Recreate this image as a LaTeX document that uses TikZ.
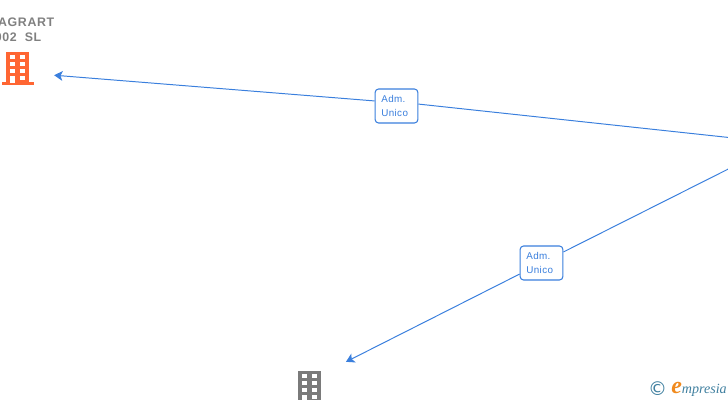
\documentclass[tikz,border=0pt]{standalone}
\usepackage{fontspec}
\setmainfont{Liberation Sans}
\newfontfamily\logofont{Liberation Serif}
\newfontfamily\markfont{DejaVu Sans}
\newfontfamily\rolefont[LetterSpace=4]{Liberation Sans}
\newfontfamily\firmfont[LetterSpace=5]{Liberation Sans}
\usepackage{xcolor}
\usetikzlibrary{arrows.meta,calc}
\definecolor{linkblue}{HTML}{3A7FDD}
\definecolor{officeorange}{HTML}{FF6633}
\definecolor{officegrey}{HTML}{7A7A7A}
\definecolor{logoteal}{HTML}{3F7F9F}
\definecolor{logoorange}{HTML}{F08A1E}
\tikzset{
  rolebox/.style={draw=linkblue,fill=white,rounded corners=2.5pt,line width=0.75pt,text=linkblue,
    font=\rolefont\fontsize{7}{10}\selectfont,align=left,text width=0.76cm,
    minimum height=0.85cm,inner xsep=0.155cm,inner ysep=0pt},
  rolelink/.style={draw=linkblue,line width=0.7pt},
  roletip/.style={-{Stealth[length=6pt,width=7pt,inset=1.5pt]}},
  office/.style={circle,minimum size=2cm,inner sep=0pt},
  firmname/.style={text=gray,font=\firmfont\fontsize{8.8}{10}\selectfont\bfseries,inner sep=0pt,anchor=east}
}
% building icon, pixel offsets from the top left of its body
\newcommand{\officeicon}[3]{
  \begin{scope}[shift={(#1,#2)}]
    \fill[#3] (0,0) rectangle (23,31);
    \fill[#3] (-4,30) rectangle (28,33);
    \foreach \x in {4,14}
      \foreach \y in {3,10,17}
        \fill[white] (\x,\y) rectangle ++(5,4);
    \fill[white] (4,24) rectangle (9,31);
    \fill[white] (14,24) rectangle (19,28);
  \end{scope}
}
\begin{document}
\begin{tikzpicture}[x=0.025cm,y=-0.025cm]
\useasboundingbox (0,0) rectangle (728,400);
\clip (0,0) rectangle (728,400);

\officeicon{6}{52}{officeorange}
\officeicon{298}{371}{officegrey}

\node[firmname] (nameA) at (54.5,22.5) {AGRART};
\node[firmname] (nameB) at (41.5,37.5) {002\ \ SL};

\node[office] (officeA) at (14,72) {};
\node[office] (officeB) at (310,380) {};
\coordinate (hub) at (780,143);

\node[rolebox] (roleA) at (396.5,106) {Adm.\\Unico};
\node[rolebox] (roleB) at (541.5,263) {Adm.\\Unico};

\draw[rolelink] (hub) -- (roleA.5);
\draw[rolelink,roletip] (roleA.167) -- (officeA);
\draw[rolelink] (hub) -- (roleB);
\draw[rolelink,roletip] (roleB) -- (officeB);

\node[text=logoteal,font=\markfont\fontsize{13.5}{14}\selectfont] (copyright) at (657.5,388.5) {\char"00A9};
\node[inner sep=0pt,anchor=west,text=logoteal,font=\logofont\itshape\fontsize{10}{12}\selectfont] (logo) at (671,389.5)
  {\textcolor{logoorange}{\bfseries\fontsize{17}{12}\selectfont e}mpresia};
\end{tikzpicture}
\end{document}
